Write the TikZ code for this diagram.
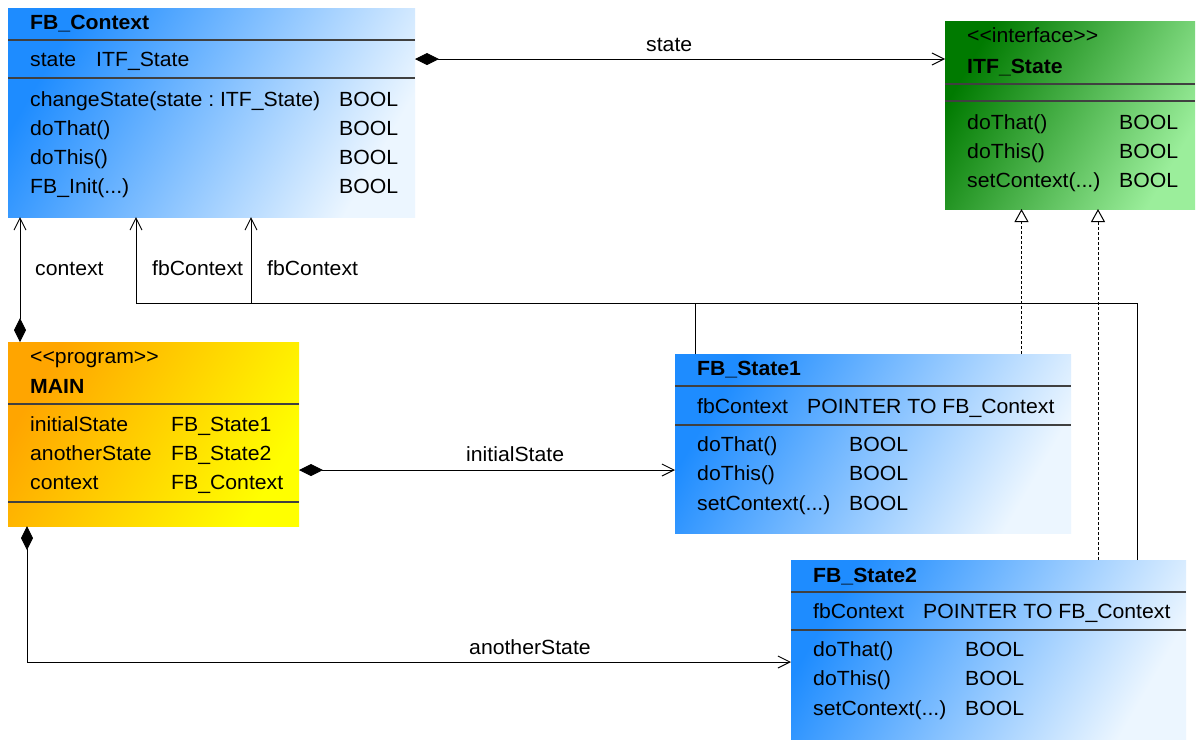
\documentclass[tikz,border=0pt]{standalone}
\usepackage{fontspec}
\setmainfont{Liberation Sans}[FakeStretch=1.035]
\usetikzlibrary{arrows.meta,calc}
\definecolor{blueA}{RGB}{30,140,255}
\definecolor{blueB}{RGB}{236,246,255}
\definecolor{greenA}{RGB}{0,122,0}
\definecolor{greenB}{RGB}{155,238,155}
\definecolor{orangeA}{RGB}{255,165,0}
\definecolor{orangeB}{RGB}{255,255,0}
\newcommand\diafont{\fontsize{20.5}{24}\selectfont\frenchspacing}
\newcommand\lt{<\kern0pt<}
\newcommand\gt{>\kern0pt>}
\begin{document}
\begin{tikzpicture}[x=1pt,y=-1pt,
  box/.style={inner sep=0pt, outer sep=0pt, anchor=north west, draw=none},
  bluebox/.style={box, top color=blueA, bottom color=blueB, shading angle=60},
  greenbox/.style={box, top color=greenA, bottom color=greenB, shading angle=60},
  orangebox/.style={box, top color=orangeA, bottom color=orangeB, shading angle=60},
  lbl/.style={anchor=base west, inner sep=0pt, font=\diafont},
  ttl/.style={anchor=base west, inner sep=0pt, font=\diafont\bfseries},
  div/.style={draw=black!75, line width=1.2pt},
  con/.style={draw=black, line width=1pt},
  comp/.style={con, {Diamond[length=24pt,width=12pt]}-{Straight Barb[length=12pt,width=12pt]}},
  nav/.style={con, -{Straight Barb[length=12pt,width=12pt]}},
  real/.style={con, dash pattern=on 3pt off 2pt, -{Triangle[open,length=13pt,width=14pt,fill=white]}}
]
\useasboundingbox (0,0) rectangle (1200,745);
\fill[white] (0,0) rectangle (1200,745);

% ---------- boxes ----------
\node[bluebox, minimum width=407pt, minimum height=209pt] (ctx) at (8,8) {};
\node[greenbox, minimum width=250pt, minimum height=188pt] (itf) at (945,21) {};
\node[orangebox, minimum width=291pt, minimum height=184pt] (main) at (8,342) {};
\node[bluebox, minimum width=396pt, minimum height=179pt] (s1) at (675,354) {};
\node[bluebox, minimum width=395pt, minimum height=179pt] (s2) at (791,560) {};

% ---------- dividers ----------
\draw[div] ($(ctx.north west)+(0,32)$) -- ($(ctx.north east)+(0,32)$);
\draw[div] ($(ctx.north west)+(0,70)$) -- ($(ctx.north east)+(0,70)$);
\draw[div] ($(itf.north west)+(0,63)$) -- ($(itf.north east)+(0,63)$);
\draw[div] ($(itf.north west)+(0,80)$) -- ($(itf.north east)+(0,80)$);
\draw[div] ($(main.north west)+(0,62)$) -- ($(main.north east)+(0,62)$);
\draw[div] ($(main.north west)+(0,160)$) -- ($(main.north east)+(0,160)$);
\draw[div] ($(s1.north west)+(0,32)$) -- ($(s1.north east)+(0,32)$);
\draw[div] ($(s1.north west)+(0,71)$) -- ($(s1.north east)+(0,71)$);
\draw[div] ($(s2.north west)+(0,32)$) -- ($(s2.north east)+(0,32)$);
\draw[div] ($(s2.north west)+(0,70)$) -- ($(s2.north east)+(0,70)$);

% ---------- FB_Context ----------
\node[ttl] (ctxT) at (30,29) {FB\_Context};
\node[lbl] (ctxA) at (30,66) {state};
\node[lbl] (ctxAt) at (96,66) {ITF\_State};
\node[lbl] (ctxM1) at (30,106) {changeState(state : ITF\_State)};
\node[lbl] (ctxM2) at (30,135) {doThat()};
\node[lbl] (ctxM3) at (30,164) {doThis()};
\node[lbl] (ctxM4) at (30,193) {FB\_Init(...)};
\node[lbl] (ctxB1) at (339,106) {BOOL};
\node[lbl] (ctxB2) at (339,135) {BOOL};
\node[lbl] (ctxB3) at (339,164) {BOOL};
\node[lbl] (ctxB4) at (339,193) {BOOL};

% ---------- ITF_State ----------
\node[lbl] (itfS) at (967,42) {\lt interface\gt};
\node[ttl] (itfT) at (967,73) {ITF\_State};
\node[lbl] (itfM1) at (967,129) {doThat()};
\node[lbl] (itfM2) at (967,158) {doThis()};
\node[lbl] (itfM3) at (967,187) {setContext(...)};
\node[lbl] (itfB1) at (1119,129) {BOOL};
\node[lbl] (itfB2) at (1119,158) {BOOL};
\node[lbl] (itfB3) at (1119,187) {BOOL};

% ---------- MAIN ----------
\node[lbl] (mainS) at (30,363) {\lt program\gt};
\node[ttl] (mainT) at (30,393) {MAIN};
\node[lbl] (mainA1) at (30,431) {initialState};
\node[lbl] (mainA2) at (30,460) {anotherState};
\node[lbl] (mainA3) at (30,489) {context};
\node[lbl] (mainA1t) at (171,431) {FB\_State1};
\node[lbl] (mainA2t) at (171,460) {FB\_State2};
\node[lbl] (mainA3t) at (171,489) {FB\_Context};

% ---------- FB_State1 ----------
\node[ttl] (s1T) at (697,375) {FB\_State1};
\node[lbl] (s1A) at (697,413) {fbContext};
\node[lbl] (s1At) at (807,413) {POINTER TO FB\_Context};
\node[lbl] (s1M1) at (697,451) {doThat()};
\node[lbl] (s1M2) at (697,480) {doThis()};
\node[lbl] (s1M3) at (697,510) {setContext(...)};
\node[lbl] (s1B1) at (849,451) {BOOL};
\node[lbl] (s1B2) at (849,480) {BOOL};
\node[lbl] (s1B3) at (849,510) {BOOL};

% ---------- FB_State2 ----------
\node[ttl] (s2T) at (813,582) {FB\_State2};
\node[lbl] (s2A) at (813,618) {fbContext};
\node[lbl] (s2At) at (923,618) {POINTER TO FB\_Context};
\node[lbl] (s2M1) at (813,656) {doThat()};
\node[lbl] (s2M2) at (813,685) {doThis()};
\node[lbl] (s2M3) at (813,715) {setContext(...)};
\node[lbl] (s2B1) at (965,656) {BOOL};
\node[lbl] (s2B2) at (965,685) {BOOL};
\node[lbl] (s2B3) at (965,715) {BOOL};

% ---------- connectors ----------
\draw[comp] ($(ctx.north east)+(0,51)$) -- ($(itf.north west)+(0,38)$);
\draw[comp] ($(main.north west)+(12,0)$) -- ($(ctx.south west)+(12,0)$);
\draw[nav] ($(s1.north west)+(20,0)$) |- ($(ctx.south west)+(243,86)$) -- ($(ctx.south west)+(243,0)$);
\draw[nav] ($(s2.north west)+(346,0)$) |- ($(ctx.south west)+(128,86)$) -- ($(ctx.south west)+(128,0)$);
\draw[real] ($(s1.north west)+(346.5,0)$) -- ($(itf.south west)+(76.5,0)$);
\draw[real] ($(s2.north west)+(307,0)$) -- ($(itf.south west)+(153,0)$);
\draw[comp] ($(main.north east)+(0,128)$) -- ($(s1.north west)+(0,116)$);
\draw[comp] ($(main.south west)+(19,0)$) |- ($(s2.north west)+(0,102)$);

% ---------- connector labels ----------
\node[lbl] (lstate) at (646,51) {state};
\node[lbl] (lcontext) at (35,275) {context};
\node[lbl] (lfb1) at (152,275) {fbContext};
\node[lbl] (lfb2) at (267,275) {fbContext};
\node[lbl] (linit) at (466,461) {initialState};
\node[lbl] (lanother) at (469,654) {anotherState};
\end{tikzpicture}
\end{document}
